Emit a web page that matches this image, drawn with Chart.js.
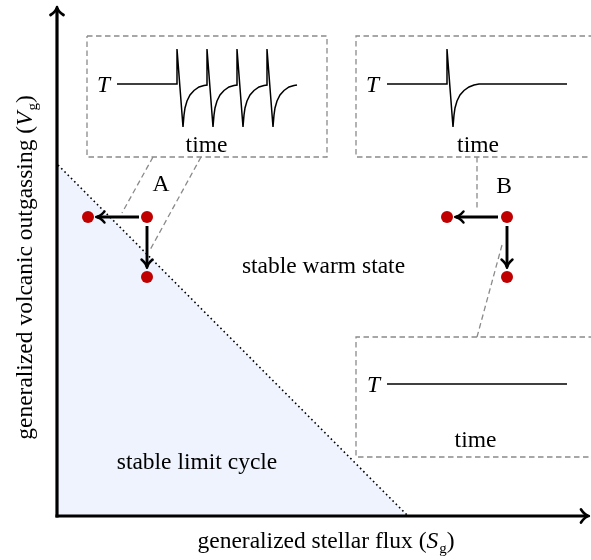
<!DOCTYPE html>
<html>
<head>
<meta charset="utf-8">
<script src="https://cdn.jsdelivr.net/npm/chart.js@4.4.1/dist/chart.umd.min.js"></script>
<style>
  html, body { margin: 0; padding: 0; background: #fff; }
  canvas { display: block; }
</style>
</head>
<body>
<canvas id="regimeChart" width="591" height="560"></canvas>
<script>
// regime boundary in (stellar flux, outgassing) units
const boundary = [{x: 0, y: 351}, {x: 350, y: 0}];

// equilibrium state and the two perturbed states for each case
const pointsA = [{x: 89, y: 299}, {x: 30, y: 299}, {x: 89, y: 239}];
const pointsB = [{x: 449, y: 299}, {x: 389, y: 299}, {x: 449, y: 239}];

// perturbation arrows (start, tip)
const arrowALeft = [{x: 81, y: 299}, {x: 39, y: 299}];
const arrowADown = [{x: 89, y: 290}, {x: 89, y: 249}];
const arrowBLeft = [{x: 440, y: 299}, {x: 398, y: 299}];
const arrowBDown = [{x: 449, y: 290}, {x: 449, y: 249}];

// axes
const xAxisLine = [{x: -2.5, y: 0}, {x: 530, y: 0}];
const yAxisLine = [{x: -1, y: -1.5}, {x: -1, y: 508}];

// inset frames
const boxA = [{x: 29, y: 480}, {x: 269, y: 480}, {x: 269, y: 359}, {x: 29, y: 359}, {x: 29, y: 480}];
const boxB = [{x: 545, y: 480}, {x: 298, y: 480}, {x: 298, y: 359}, {x: 545, y: 359}];
const boxC = [{x: 545, y: 179}, {x: 298, y: 179}, {x: 298, y: 59}, {x: 545, y: 59}];

// leader lines from insets to the states
const leaderA1 = [{x: 95, y: 359}, {x: 64, y: 303}];
const leaderA2 = [{x: 143, y: 359}, {x: 92, y: 266}];
const leaderB1 = [{x: 419, y: 359}, {x: 419, y: 305}];
const leaderB2 = [{x: 444, y: 271}, {x: 419, y: 179}];

// temperature vs time in the insets
const seriesA = [
  {x: 59, y: 432}, {x: 119, y: 432}, {x: 119, y: 467}, {x: 125, y: 389},
  {x: 126, y: 401}, {x: 127, y: 408}, {x: 129, y: 415}, {x: 132, y: 421},
  {x: 136, y: 425.5}, {x: 141, y: 429}, {x: 146, y: 430.5}, {x: 149, y: 431},
  {x: 149, y: 467}, {x: 155, y: 389},
  {x: 156, y: 401}, {x: 157, y: 408}, {x: 159, y: 415}, {x: 162, y: 421},
  {x: 166, y: 425.5}, {x: 171, y: 429}, {x: 176, y: 430.5}, {x: 179, y: 431},
  {x: 179, y: 467}, {x: 185, y: 389},
  {x: 186, y: 401}, {x: 187, y: 408}, {x: 189, y: 415}, {x: 192, y: 421},
  {x: 196, y: 425.5}, {x: 201, y: 429}, {x: 206, y: 430.5}, {x: 209, y: 431},
  {x: 209, y: 467}, {x: 215, y: 389},
  {x: 216, y: 401}, {x: 217, y: 408}, {x: 219, y: 415}, {x: 222, y: 421},
  {x: 226, y: 425.5}, {x: 231, y: 429}, {x: 236, y: 430.5}, {x: 239, y: 431}
];
const seriesB = [
  {x: 329, y: 432}, {x: 389, y: 432}, {x: 389, y: 467}, {x: 395, y: 389},
  {x: 396, y: 401}, {x: 397, y: 408}, {x: 399, y: 415}, {x: 402, y: 421},
  {x: 406, y: 425.5}, {x: 411, y: 429}, {x: 416, y: 431}, {x: 421, y: 432},
  {x: 509, y: 432}
];
const seriesC = [{x: 329, y: 132}, {x: 509, y: 132}];

const SERIF = '"Liberation Serif", "Times New Roman", serif';
const GREY = '#8a8a8a';
const RED = '#c00000';

// lower index draws on top, so stacking is set with `order`
function line(data, order, extra) {
  return Object.assign({
    type: 'line', data: data, order: order, borderColor: '#000', borderWidth: 1.5,
    pointRadius: 0, tension: 0, fill: false, clip: false
  }, extra || {});
}
const dashed = {borderColor: GREY, borderWidth: 1.3, borderDash: [5.5, 3.5]};
const arrow = {borderWidth: 2.9, arrowHead: {len: 7.5, half: 5.5}};

// arrow heads at the last point of flagged datasets
const arrowHeads = {
  id: 'arrowHeads',
  afterDatasetsDraw(chart) {
    const ctx = chart.ctx;
    chart.data.datasets.forEach((ds, i) => {
      if (!ds.arrowHead) return;
      const pts = chart.getDatasetMeta(i).data;
      const a = pts[pts.length - 2], b = pts[pts.length - 1];
      const L = ds.arrowHead.len, W = ds.arrowHead.half;
      ctx.save();
      ctx.translate(b.x, b.y);
      ctx.rotate(Math.atan2(b.y - a.y, b.x - a.x));
      ctx.strokeStyle = '#000';
      ctx.lineWidth = ds.borderWidth * 0.85;
      ctx.lineCap = 'round';
      ctx.lineJoin = 'round';
      ctx.beginPath();
      ctx.moveTo(-L, -W);
      ctx.quadraticCurveTo(-L * 0.45, -W * 0.12, 0.8, 0);
      ctx.quadraticCurveTo(-L * 0.45, W * 0.12, -L, W);
      ctx.stroke();
      ctx.restore();
    });
  }
};

// text: [x, y, parts]; parts are [text, style] with style '', 'i' or 'sub'
const notes = [
  [103, 325, [['A', '']]],
  [446, 323, [['B', '']]],
  [148.5, 364, [['time', '']]],
  [420, 364, [['time', '']]],
  [417.5, 69, [['time', '']]],
  [46, 424, [['T', 'i']]],
  [315, 424, [['T', 'i']]],
  [316, 124, [['T', 'i']]],
  [265.5, 243, [['stable warm state', '']]],
  [139, 47, [['stable limit cycle', '']]],
  [268, -32, [['generalized stellar flux (', ''], ['S', 'i'], ['g', 'sub'], [')', '']]]
];
const yTitle = [-26.5, 248.5, [['generalized volcanic outgassing (', ''], ['V', 'i'], ['g', 'sub'], [')', '']]];

function fontFor(style) {
  if (style === 'i') return 'italic 23.5px ' + SERIF;
  if (style === 'sub') return '15px ' + SERIF;
  return '23.5px ' + SERIF;
}
function drawParts(ctx, cx, cy, parts) {
  let total = 0;
  parts.forEach(p => { ctx.font = fontFor(p[1]); total += ctx.measureText(p[0]).width + (p[1] === 'i' ? 1 : 0); });
  let x = cx - total / 2;
  parts.forEach(p => {
    ctx.font = fontFor(p[1]);
    ctx.fillText(p[0], x, p[1] === 'sub' ? cy + 5 : cy);
    x += ctx.measureText(p[0]).width + (p[1] === 'i' ? 1 : 0);
  });
}

const textLayer = {
  id: 'textLayer',
  afterDraw(chart) {
    const ctx = chart.ctx, sx = chart.scales.x, sy = chart.scales.y;
    ctx.save();
    ctx.fillStyle = '#000';
    ctx.textBaseline = 'alphabetic';
    ctx.textAlign = 'left';
    notes.forEach(n => drawParts(ctx, sx.getPixelForValue(n[0]), sy.getPixelForValue(n[1]), n[2]));
    ctx.translate(sx.getPixelForValue(yTitle[0]), sy.getPixelForValue(yTitle[1]));
    ctx.rotate(-Math.PI / 2);
    drawParts(ctx, 0, 0, yTitle[2]);
    ctx.restore();
  }
};

new Chart(document.getElementById('regimeChart'), {
  type: 'scatter',
  data: {
    datasets: [
      {data: pointsA, order: 0, backgroundColor: RED, borderWidth: 0, pointRadius: 6, clip: false},
      {data: pointsB, order: 0, backgroundColor: RED, borderWidth: 0, pointRadius: 6, clip: false},
      line(arrowALeft, 1, arrow), line(arrowADown, 1, arrow),
      line(arrowBLeft, 1, arrow), line(arrowBDown, 1, arrow),
      line(xAxisLine, 1, {borderWidth: 3.2, arrowHead: {len: 7, half: 6.5}}),
      line(yAxisLine, 1, {borderWidth: 3.2, arrowHead: {len: 7, half: 6.5}}),
      line(seriesA, 2), line(seriesB, 2), line(seriesC, 2),
      line(boxA, 3, dashed), line(boxB, 3, dashed), line(boxC, 3, dashed),
      line(leaderA1, 3, dashed), line(leaderA2, 3, dashed),
      line(leaderB1, 3, dashed), line(leaderB2, 3, dashed),
      line(boundary, 4, {borderDash: [1.6, 3], borderWidth: 1.6, fill: 'origin', backgroundColor: '#eef3fd'})
    ]
  },
  options: {
    responsive: false,
    animation: false,
    devicePixelRatio: 1,
    layout: {autoPadding: false, padding: {left: 58, right: 0, top: 0, bottom: 44}},
    scales: {
      x: {type: 'linear', min: 0, max: 533, display: false},
      y: {type: 'linear', min: 0, max: 516, display: false}
    },
    plugins: {legend: {display: false}, tooltip: {enabled: false}}
  },
  plugins: [arrowHeads, textLayer]
});
</script>
</body>
</html>
